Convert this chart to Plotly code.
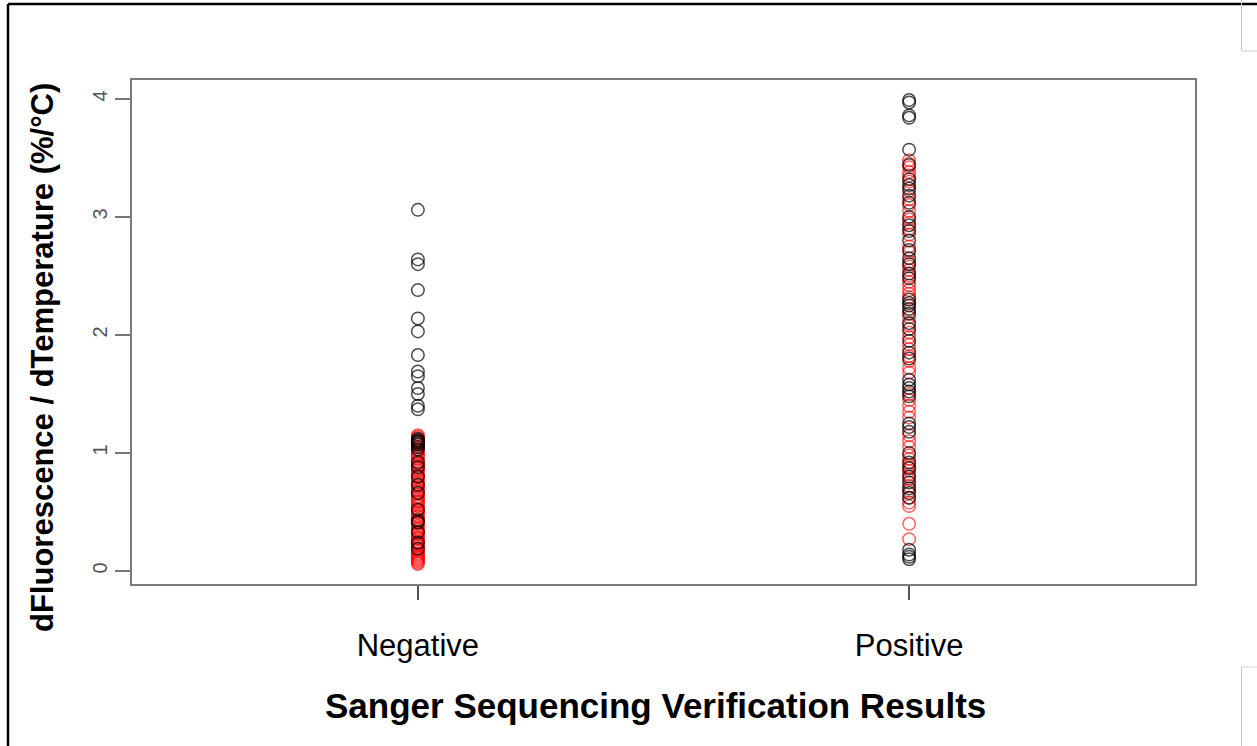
import plotly.graph_objects as go

categories = ["Negative", "Positive"]

neg_black = [3.06, 2.64, 2.60, 2.38, 2.14, 2.03, 1.83, 1.69, 1.65, 1.55, 1.50, 1.40, 1.37,
             1.12, 1.11, 1.10, 1.09, 1.08, 1.07, 1.05, 1.03, 0.92, 0.88, 0.80, 0.73, 0.66,
             0.52, 0.43, 0.41, 0.33, 0.24, 0.19]
neg_red = [1.15, 1.14, 1.13, 1.11, 1.10, 1.09, 1.07, 1.05, 1.03, 1.01, 0.99, 0.98, 0.97, 0.95,
           0.93, 0.91, 0.90, 0.89, 0.87, 0.86, 0.85, 0.83, 0.81, 0.80, 0.79, 0.77, 0.75, 0.74,
           0.72, 0.71, 0.69, 0.68, 0.67, 0.65, 0.63, 0.62, 0.60, 0.59, 0.58, 0.56, 0.55, 0.53,
           0.51, 0.50, 0.49, 0.47, 0.46, 0.44, 0.42, 0.41, 0.40, 0.38, 0.36, 0.35, 0.33, 0.32,
           0.31, 0.29, 0.28, 0.27, 0.25, 0.24, 0.23, 0.22, 0.21, 0.19, 0.18, 0.17, 0.15, 0.14,
           0.13, 0.12, 0.11, 0.10, 0.09, 0.08, 0.07, 0.06]
pos_black = [3.99, 3.97, 3.86, 3.84, 3.57, 3.44, 3.32, 3.27, 3.24, 3.18, 3.12, 3.00, 2.93,
             2.88, 2.80, 2.72, 2.65, 2.60, 2.52, 2.48, 2.30, 2.27, 2.25, 2.22, 2.18, 2.10,
             2.05, 1.95, 1.85, 1.80, 1.62, 1.58, 1.55, 1.52, 1.48, 1.25, 1.22, 1.18, 1.00,
             0.92, 0.87, 0.80, 0.75, 0.70, 0.66, 0.62, 0.18, 0.14, 0.12, 0.10]
pos_red = [3.48, 3.45, 3.42, 3.38, 3.35, 3.30, 3.22, 3.15, 3.10, 3.05, 2.98, 2.95, 2.90, 2.85,
           2.75, 2.70, 2.62, 2.58, 2.55, 2.50, 2.45, 2.42, 2.38, 2.35, 2.32, 2.20, 2.15, 2.08,
           2.02, 1.98, 1.92, 1.88, 1.82, 1.78, 1.72, 1.68, 1.50, 1.45, 1.40, 1.35, 1.30, 1.15,
           1.10, 1.05, 0.98, 0.95, 0.90, 0.88, 0.85, 0.82, 0.78, 0.72, 0.68, 0.62, 0.58, 0.55,
           0.40, 0.27]

y_ticks = [0, 1, 2, 3, 4]

x_title = "<b>Sanger Sequencing Verification Results</b>"
y_title = "<b>dFluorescence / dTemperature (%/°C)</b>"

fig = go.Figure()

red_x = [categories[0]] * len(neg_red) + [categories[1]] * len(pos_red)
red_y = neg_red + pos_red
black_x = [categories[0]] * len(neg_black) + [categories[1]] * len(pos_black)
black_y = neg_black + pos_black

fig.add_trace(go.Scatter(
    x=red_x, y=red_y, mode="markers",
    marker=dict(symbol="circle-open", size=12.5, color="rgba(255,0,0,0.6)",
                line=dict(width=1.5, color="rgba(255,0,0,0.6)")),
    showlegend=False, hoverinfo="skip"))
fig.add_trace(go.Scatter(
    x=black_x, y=black_y, mode="markers",
    marker=dict(symbol="circle-open", size=12.5, color="rgba(0,0,0,0.7)",
                line=dict(width=1.5, color="rgba(0,0,0,0.7)")),
    showlegend=False, hoverinfo="skip"))

L, R, T, B = 132, 1195, 80, 584
W, H = 1257, 746
pw, ph = R - L, B - T

def px(x):
    return (x - L) / pw

def py(y):
    return (B - y) / ph

shapes = [
    dict(type="line", xref="paper", yref="paper", x0=px(8), x1=px(1260), y0=py(4), y1=py(4),
         line=dict(color="black", width=2.5)),
    dict(type="line", xref="paper", yref="paper", x0=px(8), x1=px(8), y0=py(4), y1=py(750),
         line=dict(color="black", width=2.5)),
    dict(type="line", xref="paper", yref="paper", x0=px(1241.5), x1=px(1241.5), y0=py(-2), y1=py(51),
         line=dict(color="#c8c8c8", width=1)),
    dict(type="line", xref="paper", yref="paper", x0=px(1241.5), x1=px(1260), y0=py(51), y1=py(51),
         line=dict(color="#c8c8c8", width=1)),
    dict(type="line", xref="paper", yref="paper", x0=px(1241.5), x1=px(1260), y0=py(667), y1=py(667),
         line=dict(color="#d8d8d8", width=1)),
    dict(type="line", xref="paper", yref="paper", x0=px(1241.5), x1=px(1241.5), y0=py(667), y1=py(750),
         line=dict(color="#c8c8c8", width=1)),
]

annotations = [
    dict(text=x_title, xref="paper", yref="paper", x=px(655), y=py(705),
         xanchor="center", yanchor="middle", showarrow=False,
         font=dict(size=35, color="black")),
    dict(text=y_title, xref="paper", yref="paper", x=px(42), y=py(358),
         xanchor="center", yanchor="middle", showarrow=False, textangle=-90,
         font=dict(size=31, color="black")),
]

fig.update_layout(
    width=W, height=H,
    margin=dict(l=L, r=W - R, t=T, b=H - B),
    paper_bgcolor="white", plot_bgcolor="white",
    font=dict(family="Liberation Sans, Arial, sans-serif", color="black"),
    shapes=shapes,
    annotations=annotations,
    xaxis=dict(
        type="category", categoryorder="array", categoryarray=categories,
        range=[-0.582, 1.582],
        showline=True, mirror=True, linecolor="#7a7a7a", linewidth=2,
        showgrid=False, zeroline=False,
        ticks="outside", ticklen=14, tickcolor="#555", tickwidth=1.5,
        ticklabelstandoff=19,
        tickfont=dict(size=31, color="black"),
    ),
    yaxis=dict(
        range=[-0.11, 4.16],
        tickvals=y_ticks, ticktext=[str(v) for v in y_ticks],
        showline=True, mirror=True, linecolor="#7a7a7a", linewidth=2,
        showgrid=False, zeroline=False,
        ticks="outside", ticklen=15, tickcolor="#777", tickwidth=1.5,
        tickangle=-90,
        tickfont=dict(size=20, color="#555"),
    ),
)

fig.write_html("out.html")
